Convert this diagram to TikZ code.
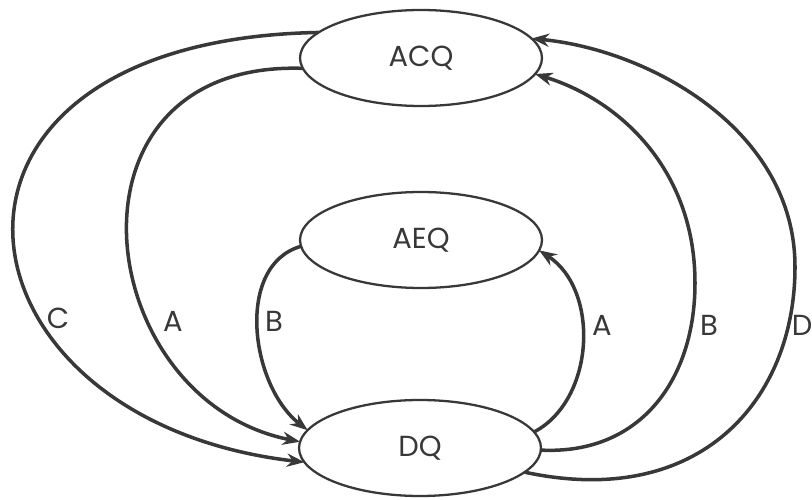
\documentclass[tikz,border=0pt]{standalone}
\usepackage{fontspec}
\setmainfont{Poppins}
\usepackage{xcolor,tikz}
\usetikzlibrary{arrows.meta,shapes.geometric,positioning}
\definecolor{ink}{gray}{0.22}
\tikzset{>={Stealth[length=10pt,width=7.5pt]}}
\tikzset{
  queue/.style={ellipse,draw=ink,line width=1.3pt,minimum width=4.84cm,minimum height=1.92cm,inner sep=0pt,outer sep=0pt,text=ink,font=\fontsize{16.5}{19}\selectfont},
  flow/.style={->,draw=ink,line width=2pt},
  tag/.style={text=ink,font=\fontsize{16.5}{19}\selectfont}
}
\begin{document}
\begin{tikzpicture}[x=0.02cm,y=-0.02cm]
        \useasboundingbox (0,0) rectangle (812,500);
        \node[queue] (acq) at (421,58) {ACQ};
        \node[queue] (aeq) at (421,240) {AEQ};
        \node[queue] (dq) at (420,448) {DQ};
        %%%% left side
        \draw[flow] (acq.166) .. controls (-110,40) and (-60,420) .. (dq.187);
        \draw[flow] (acq.185) .. controls (50,60) and (90,400) .. (dq.177);
        \draw[flow] (aeq.183) .. controls (235,265) and (250,385) .. (dq.171);
        %%%% right side
        \draw[flow] (dq.8) .. controls (595,400) and (600,290) .. (aeq.355);
        \coordinate (bmid) at (695,283);
        \draw[flow] (dq.359) .. controls (640,455) and (695,380) .. (bmid)
                    .. controls (695,170) and (620,100) .. (acq.352);
        \coordinate (dmid) at (795,267);
        \draw[flow] (dq.347) .. controls (700,510) and (795,400) .. (dmid)
                    .. controls (795,130) and (650,50) .. (acq.10);
        %%%% labels
        \node[tag] (lc) at (58,318) {C};
        \node[tag] (la) at (173,321) {A};
        \node[tag] (lb) at (274,321) {B};
        \node[tag] (ra) at (602,325) {A};
        \node[tag] (rb) at (709,325) {B};
        \node[tag] (rd) at (802,325) {D};
    \end{tikzpicture}
\end{document}
